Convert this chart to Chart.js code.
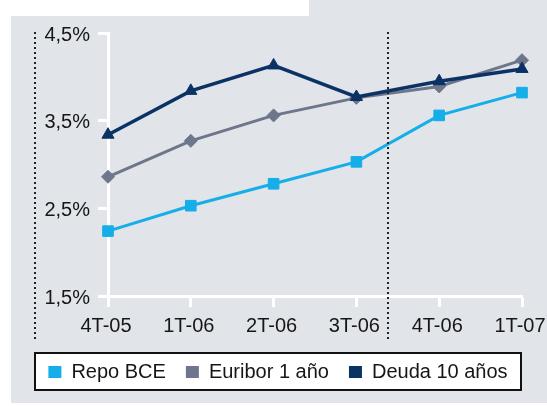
<!DOCTYPE html>
<html>
<head>
<meta charset="utf-8">
<script src="https://cdn.jsdelivr.net/npm/chart.js@4"></script>
<style>
  html, body { margin: 0; padding: 0; background: #ffffff; }
  #chart { display: block; }
</style>
</head>
<body>
<canvas id="chart" width="547" height="406"></canvas>
<script>
// Quarterly interest rates (%)
const categories = ['4T-05', '1T-06', '2T-06', '3T-06', '4T-06', '1T-07'];
const repoBCE = [2.24, 2.53, 2.78, 3.03, 3.56, 3.82];
const euribor1 = [2.86, 3.27, 3.56, 3.76, 3.89, 4.19];
const deuda10 = [3.34, 3.84, 4.13, 3.77, 3.95, 4.09];
const seriesNames = ['Repo BCE', 'Euribor 1 año', 'Deuda 10 años'];
const yTickValues = [1.5, 2.5, 3.5, 4.5];
const yTickLabels = ['1,5%', '2,5%', '3,5%', '4,5%'];
// dotted separator between 3T-06 and 4T-06, in category-index units
const separatorAt = 3.38;

const COLORS = { repo: '#16aee8', euribor: '#6d768a', deuda: '#0b3265' };
const PANEL = '#e1e4e9';
const TEXT = '#161616';
const FONT = { family: '"Liberation Sans", Arial, Helvetica, sans-serif', size: 20 };
const legendShift = 17;

Chart.defaults.font.family = FONT.family;
Chart.defaults.font.size = FONT.size;
Chart.defaults.color = TEXT;

const panelPlugin = {
  id: 'panel',
  afterLayout(chart) {
    chart.legend.left += legendShift;
    chart.legend.right += legendShift;
  },
  beforeDraw(chart) {
    const ctx = chart.ctx;
    const W = chart.width;
    ctx.save();
    ctx.fillStyle = '#ffffff';
    ctx.fillRect(0, 0, W, chart.height);
    ctx.fillStyle = PANEL;
    ctx.fillRect(11, 16, W - 11, 387);
    ctx.fillRect(309, 0, W - 309, 16);
    // legend frame
    const hb = chart.legend.legendHitBoxes;
    if (hb && hb.length) {
      const first = hb[0], last = hb[hb.length - 1];
      const mid = first.top + first.height / 2;
      const x0 = Math.round(first.left - 13);
      const x1 = Math.round(last.left + last.width + 13);
      const y0 = Math.round(mid - 19), y1 = Math.round(mid + 18);
      ctx.fillStyle = '#ffffff';
      ctx.fillRect(x0, y0, x1 - x0, y1 - y0);
      ctx.strokeStyle = '#111111';
      ctx.lineWidth = 2;
      ctx.strokeRect(x0, y0, x1 - x0, y1 - y0);
      chart.$frameLeft = x0;
    }
    ctx.restore();
  },
  afterDraw(chart) {
    const ctx = chart.ctx;
    const top = chart.chartArea.top - 1;
    const bottom = chart.legend.top;
    const xs = [chart.$frameLeft, chart.scales.x.getPixelForValue(separatorAt)];
    ctx.save();
    ctx.strokeStyle = '#222222';
    ctx.lineWidth = 2;
    ctx.setLineDash([2, 3]);
    xs.forEach(x => {
      ctx.beginPath();
      ctx.moveTo(Math.round(x), top);
      ctx.lineTo(Math.round(x), bottom);
      ctx.stroke();
    });
    ctx.restore();
  }
};

function series(label, data, color, style, radius, width, order) {
  return {
    label, data, order,
    borderColor: color,
    backgroundColor: color,
    borderWidth: width,
    tension: 0,
    clip: false,
    pointStyle: style,
    pointRadius: radius,
    pointHoverRadius: radius,
    pointBackgroundColor: color,
    pointBorderColor: color,
    pointBorderWidth: 1
  };
}

new Chart(document.getElementById('chart'), {
  type: 'line',
  data: {
    labels: categories,
    datasets: [
      series(seriesNames[0], repoBCE, COLORS.repo, 'rect', 7.5, 3, 2),
      series(seriesNames[1], euribor1, COLORS.euribor, 'rectRot', 6.5, 3, 1),
      series(seriesNames[2], deuda10, COLORS.deuda, 'triangle', 7, 3.5, 0)
    ]
  },
  options: {
    responsive: false,
    animation: false,
    events: [],
    devicePixelRatio: 1,
    layout: { padding: { top: 33, right: 25, bottom: 14, left: 0 } },
    scales: {
      x: {
        afterFit(s) { s.height = 46; s.paddingLeft = 0; s.paddingRight = 0; },
        ticks: { padding: 7, labelOffset: -2, color: TEXT, font: FONT, maxRotation: 0, autoSkip: false },
        grid: { drawOnChartArea: false, drawTicks: true, tickLength: 11, tickColor: '#ffffff', tickWidth: 3 },
        border: { display: true, color: '#ffffff', width: 3 }
      },
      y: {
        min: yTickValues[0],
        max: yTickValues[yTickValues.length - 1],
        afterFit(s) { s.width = 108; },
        afterBuildTicks(s) { s.ticks = yTickValues.map(v => ({ value: v })); },
        ticks: {
          callback: (v, i) => yTickLabels[i],
          padding: 8,
          labelOffset: 2,
          color: TEXT,
          font: FONT
        },
        grid: { drawOnChartArea: false, drawTicks: true, tickLength: 10, tickColor: '#ffffff', tickWidth: 3 },
        border: { display: true, color: '#ffffff', width: 3 }
      }
    },
    plugins: {
      tooltip: { enabled: false },
      legend: {
        position: 'bottom',
        align: 'center',
        labels: {
          boxWidth: 13,
          boxHeight: 12,
          padding: 20,
          color: TEXT,
          font: FONT,
          sort: (a, b) => a.datasetIndex - b.datasetIndex,
          generateLabels(chart) {
            const items = Chart.defaults.plugins.legend.labels.generateLabels(chart);
            items.forEach(it => { it.lineWidth = 0; it.fillStyle = it.strokeStyle; });
            return items;
          }
        }
      }
    }
  },
  plugins: [panelPlugin]
});
</script>
</body>
</html>
